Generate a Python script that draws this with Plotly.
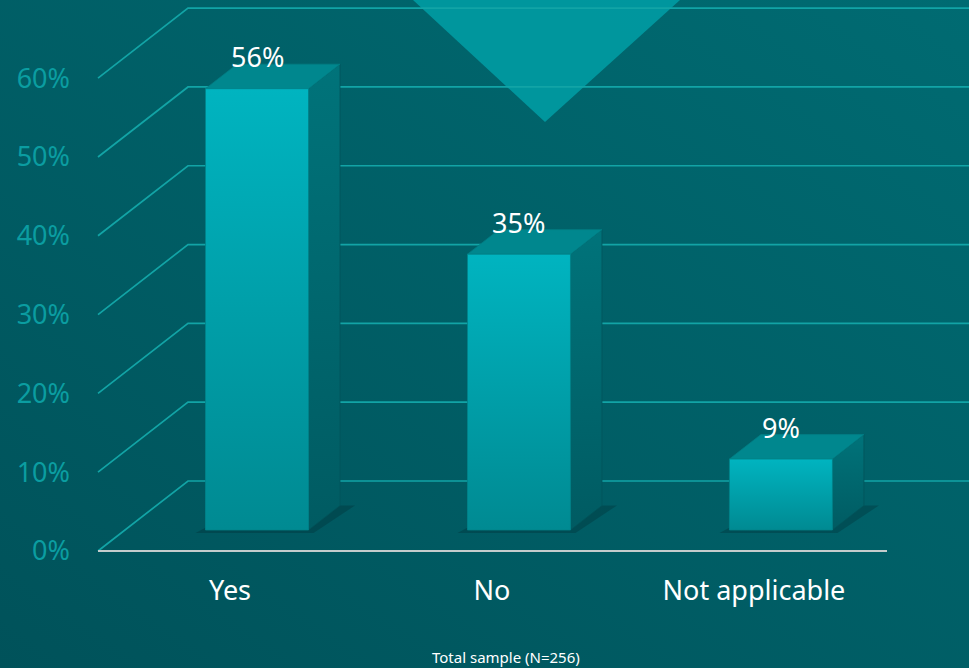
import base64
import plotly.graph_objects as go

# ---------------- data ----------------
categories = ["Yes", "No", "Not applicable"]
values = [56, 35, 9]
value_labels = ["56%", "35%", "9%"]
y_ticks = [0, 10, 20, 30, 40, 50, 60]
y_tick_labels = ["0%", "10%", "20%", "30%", "40%", "50%", "60%"]
footnote = "Total sample (N=256)"

# ---------------- geometry / style ----------------
W, H = 969, 668
X_RANGE = [-0.878, 2.821]
Y_RANGE = [-14.85, 69.92]
xu = (X_RANGE[1] - X_RANGE[0]) / W   # x data units per pixel
yu = (Y_RANGE[1] - Y_RANGE[0]) / H   # y data units per pixel
DX = 90 * xu      # depth offset (full floor depth)
DY = 70 * yu
HW = 51.5 * xu    # half bar width
D0, D1 = 0.30, 0.65   # bar front / back depth fractions
LEFT = X_RANGE[0] + 98 * xu     # front-left corner of the floor
RIGHT_FRONT = X_RANGE[0] + 887 * xu
FONT = "Noto Sans"
GRID = "#12a4a6"

fig = go.Figure()

# background gradient + decorative triangle (as an image under the plot)
svg = (
    f'<svg xmlns="http://www.w3.org/2000/svg" width="{W}" height="{H}" viewBox="0 0 {W} {H}">'
    '<defs><linearGradient id="g" x1="0" y1="1" x2="1" y2="0">'
    '<stop offset="0" stop-color="#00525a"/><stop offset="1" stop-color="#006b72"/>'
    '</linearGradient></defs>'
    f'<rect width="{W}" height="{H}" fill="url(#g)"/>'
    '<polygon points="413,0 680,0 545,122" fill="#009aa2" fill-opacity="0.92"/>'
    '</svg>'
)
src = "data:image/svg+xml;base64," + base64.b64encode(svg.encode()).decode()

# gridlines: diagonal side wall + back wall horizontals
gx, gy = [], []
for t in y_ticks:
    gx += [LEFT, LEFT + DX, X_RANGE[1] + 1, None]
    gy += [t, t + DY, t + DY, None]
fig.add_trace(go.Scatter(x=gx, y=gy, mode="lines",
                         line=dict(color=GRID, width=1.7),
                         hoverinfo="skip", showlegend=False))

# front baseline
fig.add_trace(go.Scatter(x=[LEFT, RIGHT_FRONT], y=[0, 0], mode="lines",
                         line=dict(color="#c4cccc", width=2),
                         hoverinfo="skip", showlegend=False))

for i, v in enumerate(values):
    fx0 = i + D0 * DX - HW
    fx1 = i + D0 * DX + HW
    bx0 = i + D1 * DX - HW
    bx1 = i + D1 * DX + HW
    fy = D0 * DY
    by = D1 * DY

    # floor shadow
    sh = 10 * xu
    fig.add_trace(go.Scatter(
        x=[fx0 - sh, fx1 + sh * 0.5, bx1 + sh * 1.5, bx0 + sh, fx0 - sh],
        y=[fy - 3 * yu, fy - 3 * yu, by, by, fy - 3 * yu],
        mode="lines", fill="toself", fillcolor="rgba(0,40,45,0.3)",
        line=dict(width=0), hoverinfo="skip", showlegend=False))

    # right side face
    fig.add_trace(go.Scatter(
        x=[fx1, bx1, bx1, fx1, fx1], y=[fy, by, by + v, fy + v, fy],
        mode="lines", fill="toself",
        fillgradient=dict(type="vertical", start=fy, stop=by + v,
                          colorscale=[[0, "#005b62"], [1, "#00737a"]]),
        line=dict(width=0.8, color="#00545a"), hoverinfo="skip", showlegend=False))

    # top face
    fig.add_trace(go.Scatter(
        x=[fx0, fx1, bx1, bx0, fx0], y=[fy + v, fy + v, by + v, by + v, fy + v],
        mode="lines", fill="toself", fillcolor="#00878e",
        line=dict(width=0.8, color="#007d84"), hoverinfo="skip", showlegend=False))

    # front face
    fig.add_trace(go.Scatter(
        x=[fx0, fx1, fx1, fx0, fx0], y=[fy, fy, fy + v, fy + v, fy],
        mode="lines", fill="toself",
        fillgradient=dict(type="vertical", start=fy, stop=fy + v,
                          colorscale=[[0, "#008a92"], [1, "#00b4c0"]]),
        line=dict(width=0.8, color="#00838a"), hoverinfo="skip", showlegend=False))

    fig.add_annotation(x=i + D0 * DX, y=fy + v, yshift=32, text=value_labels[i],
                       showarrow=False, xanchor="center", yanchor="middle",
                       font=dict(family=FONT, size=27, color="white"))

fig.add_annotation(xref="paper", yref="paper", x=506 / W, y=1 - 657 / H,
                   text=footnote, showarrow=False, xanchor="center", yanchor="middle",
                   font=dict(family=FONT, size=15, color="white"))

fig.update_layout(
    width=W, height=H, margin=dict(l=0, r=0, t=0, b=0),
    paper_bgcolor="#005e63", plot_bgcolor="rgba(0,0,0,0)",
    showlegend=False,
    images=[dict(source=src, xref="paper", yref="paper", x=0, y=1, sizex=1, sizey=1,
                 xanchor="left", yanchor="top", sizing="stretch", layer="below")],
    xaxis=dict(range=X_RANGE, tickvals=list(range(len(categories))), ticktext=categories,
               showgrid=False, zeroline=False, showline=False, ticks="",
               anchor="free", position=(H - 551) / H, ticklabelstandoff=21,
               tickfont=dict(family=FONT, size=27, color="white"), fixedrange=True),
    yaxis=dict(range=Y_RANGE, tickvals=y_ticks, ticktext=y_tick_labels,
               showgrid=False, zeroline=False, showline=False, ticks="",
               anchor="free", position=70 / W,
               tickfont=dict(family=FONT, size=27, color="#0b9da1"), fixedrange=True),
)

fig.write_html("out.html")
